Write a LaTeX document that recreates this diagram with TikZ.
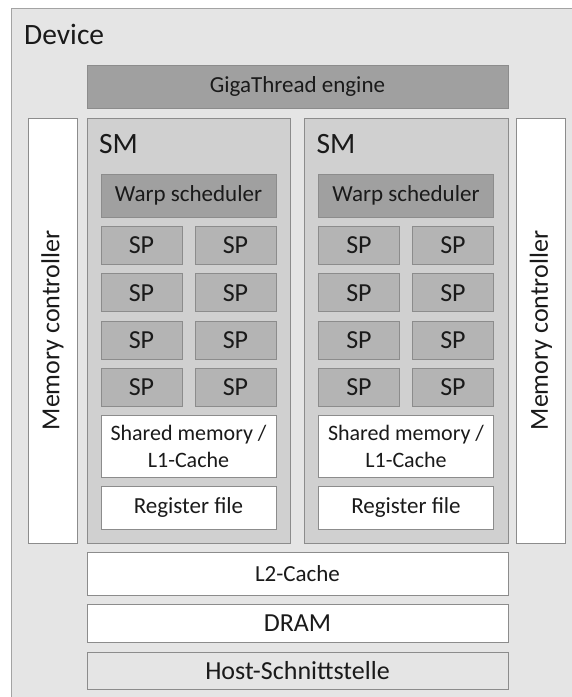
\documentclass[tikz,border=0pt]{standalone}
\usepackage{fontspec}
\setmainfont{Carlito}
\usepackage{tikz}
\usetikzlibrary{positioning}

\definecolor{devfill}{HTML}{E5E5E5}
\definecolor{smfill}{HTML}{D0D0D0}
\definecolor{spfill}{HTML}{B4B4B4}
\definecolor{unitfill}{HTML}{A0A0A0}
\definecolor{edge}{HTML}{8C8C8C}
\definecolor{txt}{HTML}{1A1A1A}

\begin{document}
\begin{tikzpicture}[
    x=1pt, y=-1pt,
    box/.style={draw=edge, line width=0.9pt, inner sep=0pt, align=center, text=txt,
                font=\fontsize{23}{27}\selectfont},
    big/.style={font=\fontsize{26}{30}\selectfont},
    unit/.style={box, fill=unitfill},
    sp/.style={box, big, fill=spfill, minimum width=81, minimum height=38},
    mem/.style={box, fill=white},
    ctrl/.style={mem, big, rotate=90, minimum width=425, minimum height=49},
    sm/.style={box, fill=smfill, minimum width=203.5, minimum height=425},
    title/.style={anchor=base west, inner sep=0pt, text=txt, font=\fontsize{29.5}{34}\selectfont},
]
    \clip (0,0) rectangle (572,697);

    % Device
    \node[box, fill=devfill, draw=edge!80, minimum width=579, minimum height=702] (device) at (300.5,359) {};
    \node[title] (device-label) at (24,44) {Device};

    % GigaThread engine
    \node[unit, minimum width=421, minimum height=43] (giga) at (297.5,86.5) {GigaThread engine};

    % Memory controllers
    \node[ctrl] (mc-1) at (52.5,330.5) {Memory controller};
    \node[ctrl] (mc-2) at (541,330.5) {Memory controller};

    % Streaming multiprocessors
    \foreach \s/\x in {1/87, 2/304.5} {
        \node[sm] (sm-\s) at (\x+101.75,330.5) {};
        \node[title] (sm-label-\s) at (\x+12,153) {SM};
        \node[unit, minimum width=175, minimum height=43] (warp-\s) at (\x+101.5,195.5) {Warp scheduler};
        \foreach \r in {1,...,4} {
            \node[sp] (sp-\s-\r-1) at (\x+54.5,245.5+47.3*\r-47.3) {SP};
            \node[sp] (sp-\s-\r-2) at (\x+148.5,245.5+47.3*\r-47.3) {SP};
        }
        \node[mem, minimum width=175, minimum height=62, font=\fontsize{22}{27}\selectfont] (shared-\s) at (\x+101.5,446) {Shared memory /\\L1-Cache};
        \node[mem, minimum width=175, minimum height=43] (reg-\s) at (\x+101.5,507.5) {Register file};
    }

    % Cache, DRAM and host interface
    \node[mem, minimum width=421, minimum height=43] (l2) at (297.5,573.5) {L2-Cache};
    \node[mem, big, minimum width=421, minimum height=38] (dram) at (297.5,623) {DRAM};
    \node[box, big, fill=devfill, minimum width=421, minimum height=37] (host) at (297.5,670.5) {Host-Schnittstelle};
\end{tikzpicture}
\end{document}
